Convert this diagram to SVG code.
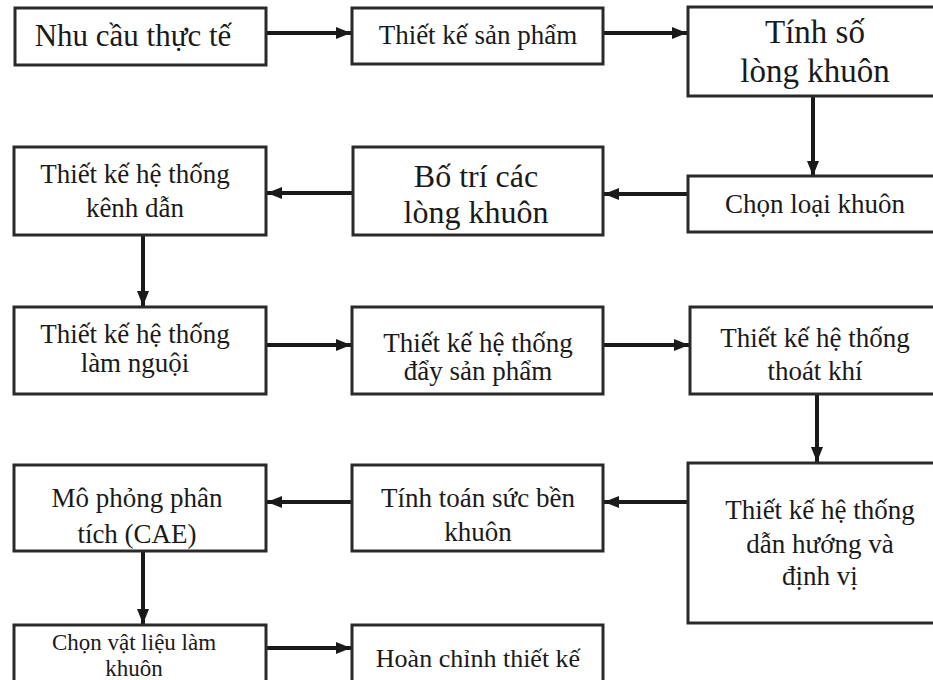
<svg xmlns="http://www.w3.org/2000/svg" width="933" height="680" viewBox="0 0 933 680">
<defs>
<marker id="ah" markerUnits="userSpaceOnUse" markerWidth="16" markerHeight="14" refX="15" refY="7" orient="auto">
<path d="M0,1 L15,7 L0,13 Z" fill="#1a1a1a"/>
</marker>
</defs>
<style>
.box{fill:#fff;stroke:#2a2a2a;stroke-width:3}
.t{font-family:"Liberation Serif","Times New Roman",serif;fill:#1a1a1a;text-anchor:middle;font-size:27px}
.conn line{stroke:#1a1a1a;stroke-width:4;marker-end:url(#ah)}
</style>
<rect width="933" height="680" fill="#fff"/>
<g class="conn" id="connectors">
<line x1="266" y1="33" x2="351" y2="33"/>
<line x1="603" y1="33" x2="687" y2="33"/>
<line x1="813" y1="96" x2="813" y2="176"/>
<line x1="688" y1="194" x2="604" y2="194"/>
<line x1="353" y1="193" x2="267" y2="193"/>
<line x1="143" y1="235" x2="143" y2="306"/>
<line x1="266" y1="345" x2="351" y2="345"/>
<line x1="603" y1="345" x2="689" y2="345"/>
<line x1="817" y1="394" x2="817" y2="462"/>
<line x1="688" y1="502" x2="604" y2="502"/>
<line x1="352" y1="502" x2="267" y2="502"/>
<line x1="143" y1="550" x2="143" y2="624"/>
<line x1="266" y1="648" x2="351" y2="648"/>
</g>
<g id="n1"><rect class="box" x="15" y="8" width="251" height="57"/><text class="t" x="133" y="46" style="font-size:31px">Nhu cầu thực tế</text></g>
<g id="n2"><rect class="box" x="352" y="8" width="251" height="56"/><text class="t" x="478" y="44">Thiết kế sản phẩm</text></g>
<g id="n3"><rect class="box" x="688" y="7" width="252" height="89"/><text class="t" x="815" y="43" style="font-size:33px">Tính số</text><text class="t" x="815" y="82" style="font-size:33px">lòng khuôn</text></g>
<g id="n4"><rect class="box" x="688" y="176" width="252" height="56"/><text class="t" x="815" y="213">Chọn loại khuôn</text></g>
<g id="n5"><rect class="box" x="353" y="147" width="250" height="88"/><text class="t" x="476" y="187" style="font-size:32px">Bố trí các</text><text class="t" x="476" y="223" style="font-size:32px">lòng khuôn</text></g>
<g id="n6"><rect class="box" x="14" y="147" width="252" height="88"/><text class="t" x="135" y="183">Thiết kế hệ thống</text><text class="t" x="135" y="217">kênh dẫn</text></g>
<g id="n7"><rect class="box" x="14" y="307" width="252" height="87"/><text class="t" x="135" y="343">Thiết kế hệ thống</text><text class="t" x="135" y="372">làm nguội</text></g>
<g id="n8"><rect class="box" x="352" y="307" width="251" height="87"/><text class="t" x="478" y="352">Thiết kế hệ thống</text><text class="t" x="478" y="380">đẩy sản phẩm</text></g>
<g id="n9"><rect class="box" x="690" y="307" width="250" height="87"/><text class="t" x="815" y="347">Thiết kế hệ thống</text><text class="t" x="815" y="380">thoát khí</text></g>
<g id="n10"><rect class="box" x="688" y="463" width="252" height="160"/><text class="t" x="820" y="519">Thiết kế hệ thống</text><text class="t" x="820" y="553">dẫn hướng và</text><text class="t" x="820" y="585">định vị</text></g>
<g id="n11"><rect class="box" x="352" y="465" width="251" height="86"/><text class="t" x="478" y="507">Tính toán sức bền</text><text class="t" x="478" y="541">khuôn</text></g>
<g id="n12"><rect class="box" x="14" y="465" width="252" height="86"/><text class="t" x="137" y="507">Mô phỏng phân</text><text class="t" x="137" y="543">tích (CAE)</text></g>
<g id="n13"><rect class="box" x="14" y="625" width="252" height="70"/><text class="t" x="134" y="650" style="font-size:23px">Chọn vật liệu làm</text><text class="t" x="134" y="676" style="font-size:23px">khuôn</text></g>
<g id="n14"><rect class="box" x="352" y="625" width="251" height="70"/><text class="t" x="478" y="667" style="font-size:26px">Hoàn chỉnh thiết kế</text></g>
</svg>
